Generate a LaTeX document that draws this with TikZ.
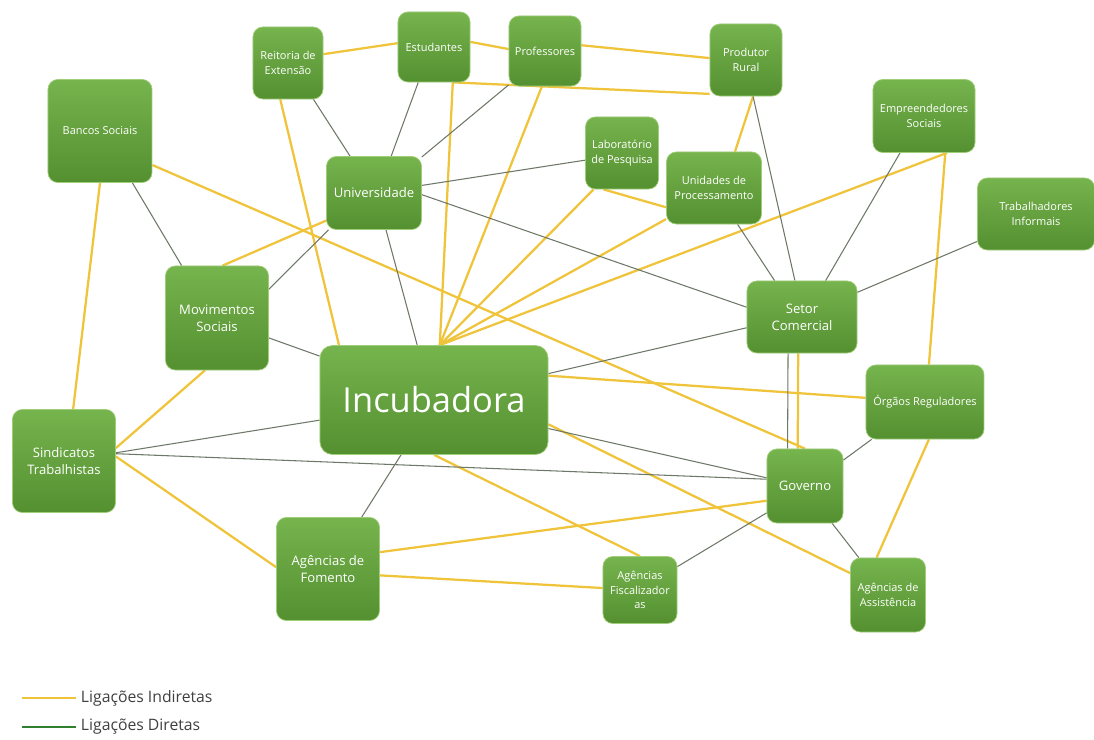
\documentclass[tikz,border=0pt]{standalone}
\usepackage{fontspec}
\setmainfont{Open Sans}
\usepackage[x11names]{xcolor}
\usetikzlibrary{positioning,backgrounds}
\definecolor{boxtop}{RGB}{118,180,78}
\definecolor{boxbot}{RGB}{84,144,48}
\definecolor{boxrim}{RGB}{160,205,120}
\definecolor{indireta}{RGB}{240,196,58}
\definecolor{direta}{RGB}{110,120,104}
\definecolor{legdireta}{RGB}{48,128,48}

\begin{document}
\begin{tikzpicture}[x=0.025cm,y=-0.025cm,
  caixa/.style={rectangle,rounded corners=7pt,top color=boxtop,bottom color=boxbot,draw=boxrim,line width=0.5pt,text=white,align=center,inner sep=1pt,font=\fontsize{7.8}{10.4}\selectfont},
  caixag/.style={caixa,font=\fontsize{9.3}{12}\selectfont},
  ind/.style={indireta,line width=1.6pt},
  dir/.style={direta,line width=0.75pt},
  legenda/.style={anchor=west,text=black!75,font=\fontsize{11.2}{13}\selectfont}]
       \useasboundingbox (0,0) rectangle (1094,740);
       \node[caixa,minimum width=1.75cm,minimum height=1.8cm] (reitoria) at (288,63) {Reitoria de\\Extensão};
       \node[caixa,minimum width=1.8cm,minimum height=1.75cm] (estudantes) at (434,47) {Estudantes};
       \node[caixa,minimum width=1.8cm,minimum height=1.75cm] (professores) at (545,51) {Professores};
       \node[caixa,minimum width=1.8cm,minimum height=1.8cm] (produtor) at (746,60) {Produtor\\Rural};
       \node[caixa,minimum width=2.6cm,minimum height=2.575cm] (bancos) at (100,131) {Bancos Sociais};
       \node[caixag,minimum width=2.375cm,minimum height=1.825cm] (universidade) at (374,193) {Universidade};
       \node[caixa,minimum width=1.825cm,minimum height=1.8cm] (laboratorio) at (622,153) {Laboratório\\de Pesquisa};
       \node[caixa,minimum width=2.375cm,minimum height=1.8cm] (unidades) at (714,188) {Unidades de\\Processamento};
       \node[caixa,minimum width=2.55cm,minimum height=1.825cm] (empreendedores) at (924,116) {Empreendedores\\Sociais};
       \node[caixa,minimum width=2.925cm,minimum height=1.8cm] (trabalhadores) at (1036,214) {Trabalhadores\\Informais};
       \node[caixag,minimum width=2.575cm,minimum height=2.6cm] (movimentos) at (217,318) {Movimentos\\Sociais};
       \node[caixag,minimum width=2.75cm,minimum height=1.8cm] (setor) at (802,317) {Setor\\Comercial};
       \node[caixa,rounded corners=9pt,font=\fontsize{24.5}{29}\selectfont,minimum width=5.7cm,minimum height=2.725cm] (incubadora) at (434,400) {Incubadora};
       \node[caixa,minimum width=2.95cm,minimum height=1.85cm] (orgaos) at (925,402) {Órgãos Reguladores};
       \node[caixag,minimum width=2.575cm,minimum height=2.575cm] (sindicatos) at (64,461) {Sindicatos\\Trabalhistas};
       \node[caixag,minimum width=1.9cm,minimum height=1.85cm] (governo) at (805,486) {Governo};
       \node[caixag,minimum width=2.575cm,minimum height=2.575cm] (fomento) at (328,569) {Agências de\\Fomento};
       \node[caixa,minimum width=1.85cm,minimum height=1.675cm] (fiscalizadoras) at (640,590) {Agências\\Fiscalizador\\as};
       \node[caixa,minimum width=1.875cm,minimum height=1.85cm] (assistencia) at (888,595) {Agências de\\Assistência};
       \node[legenda] (legind) at (76,698) {Ligações Indiretas};
       \node[legenda] (legdir) at (76,727) {Ligações Diretas};
       \coordinate (legindfim) at (22,698);
       \coordinate (legdirfim) at (22,727);
       \begin{scope}[on background layer]
         \fill[white] (0,0) rectangle (1094,740);
         \draw[ind] (reitoria.14) -- (estudantes.174);
         \draw[ind] (estudantes.8) -- (professores.177);
         \draw[ind] (professores.9) -- (produtor.177);
         \draw[ind] (estudantes.-62) -- (produtor.-137);
         \draw[ind] (reitoria.-102) -- (incubadora.150);
         \draw[ind] (estudantes.-62) -- (incubadora.84);
         \draw[ind] (professores.-95) -- (incubadora.84);
         \draw[ind] (laboratorio.-128) -- (incubadora.84);
         \draw[ind] (unidades.-147) -- (incubadora.84);
         \draw[ind] (empreendedores.-58) -- (incubadora.84);
         \draw[ind] (laboratorio.-117) -- (unidades.202);
         \draw[ind] (produtor.-79) -- (unidades.60);
         \draw[ind] (empreendedores.-60) -- (orgaos.84);
         \draw[ind] (bancos.south) -- (sindicatos.80);
         \draw[ind] (bancos.-33) -- (governo.north);
         \draw[ind] (movimentos.84) -- (universidade.210);
         \draw[ind] (movimentos.-103) -- (sindicatos.14);
         \draw[ind] (sindicatos.5) -- (fomento.178);
         \draw[ind] (fomento.18) -- (governo.201);
         \draw[ind] (fomento.-7) -- (fiscalizadoras.177);
         \draw[ind] (incubadora.south) -- (fiscalizadoras.north);
         \draw[ind] (incubadora.-12) -- (assistencia.150);
         \draw[ind] (incubadora.12) -- (orgaos.176);
         \draw[ind] (setor.-96) -- (governo.101);
         \draw[ind] (orgaos.-84) -- (assistencia.107);
         \draw[dir] (universidade.-72) -- (incubadora.107);
         \draw[dir] (bancos.-58) -- (movimentos.124);
         \draw[dir] (reitoria.-55) -- (universidade.123);
         \draw[dir] (estudantes.-114) -- (universidade.65);
         \draw[dir] (professores.-137) -- (universidade.37);
         \draw[dir] (laboratorio.191) -- (universidade.9);
         \draw[dir] (universidade.-2) -- (setor.170);
         \draw[dir] (universidade.-141) -- (movimentos.29);
         \draw[dir] (movimentos.-21) -- (incubadora.159);
         \draw[dir] (sindicatos.9) -- (incubadora.190);
         \draw[dir] (sindicatos.8) -- (governo.170);
         \draw[dir] (incubadora.-121) -- (fomento.57);
         \draw[dir] (incubadora.-14) -- (governo.168);
         \draw[dir] (governo.215) -- (fiscalizadoras.32);
         \draw[dir] (governo.-54) -- (assistencia.128);
         \draw[dir] (governo.34) -- (orgaos.215);
         \draw[dir] (setor.-111) -- (governo.115);
         \draw[dir] (setor.24) -- (trabalhadores.205);
         \draw[dir] (setor.57) -- (empreendedores.237);
         \draw[dir] (setor.101) -- (produtor.-79);
         \draw[dir] (unidades.-57) -- (setor.127);
         \draw[dir] (incubadora.13) -- (setor.191);
         \draw[indireta,line width=1.3pt] (legindfim) -- (legind.west);
         \draw[legdireta,line width=1.8pt] (legdirfim) -- (legdir.west);
       \end{scope}
     \end{tikzpicture}
\end{document}
